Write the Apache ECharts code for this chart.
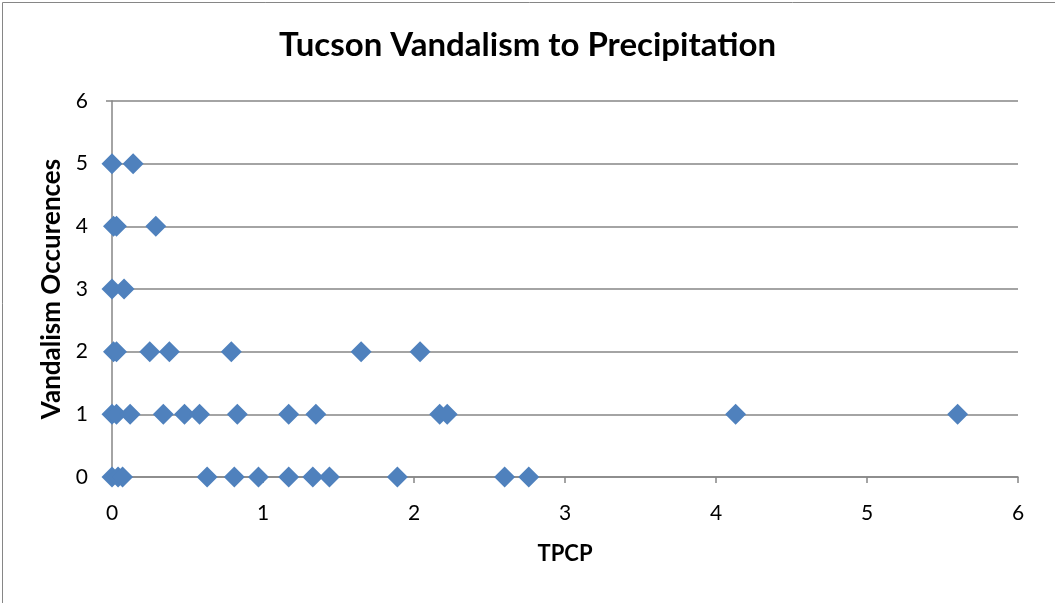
<!DOCTYPE html>
<html>
<head>
<meta charset="utf-8">
<script src="https://cdn.jsdelivr.net/npm/echarts@6/dist/echarts.min.js"></script>
<style>
html,body{margin:0;padding:0;background:#fff;}
#chart{width:1055px;height:603px;}
</style>
</head>
<body>
<div id="chart"></div>
<script>
const titleText = 'Tucson Vandalism to Precipitation';
const xAxisName = 'TPCP';
const yAxisName = 'Vandalism Occurences';
const tpcp = [0.0, 0.14,
  0.01, 0.03, 0.29,
  0.0, 0.08,
  0.01, 0.03, 0.25, 0.38, 0.79, 1.65, 2.04,
  0.0, 0.03, 0.12, 0.34, 0.48, 0.58, 0.83, 1.17, 1.35, 2.17, 2.22, 4.13, 5.6,
  0.0, 0.04, 0.07, 0.63, 0.81, 0.97, 1.17, 1.33, 1.44, 1.89, 2.6, 2.76];
const vandalism = [5, 5,
  4, 4, 4,
  3, 3,
  2, 2, 2, 2, 2, 2, 2,
  1, 1, 1, 1, 1, 1, 1, 1, 1, 1, 1, 1, 1,
  0, 0, 0, 0, 0, 0, 0, 0, 0, 0, 0, 0];

const points = tpcp.map((x, i) => [x, vandalism[i]]);
const font = 'Lato, "Open Sans", sans-serif';
const chart = echarts.init(document.getElementById('chart'));
chart.setOption({
  animation: false,
  title: {
    text: titleText, left: 'center', top: 24,
    textStyle: {fontFamily: font, fontSize: 33, fontWeight: 'bold', color: '#000'}
  },
  graphic: [{
    type: 'rect', left: 0, top: 0,
    shape: {x: 0.5, y: 0.5, width: 1054, height: 602},
    style: {fill: 'none', stroke: '#868686', lineWidth: 1}
  }],
  grid: {left: 112, right: 37, top: 101, bottom: 126},
  xAxis: {
    type: 'value', min: 0, max: 6, interval: 1,
    name: xAxisName, nameLocation: 'middle', nameGap: 66,
    nameTextStyle: {fontFamily: font, fontSize: 22, fontWeight: 'bold', color: '#000'},
    axisLine: {show: true, onZero: false, lineStyle: {color: '#868686', width: 1.5}},
    axisTick: {show: true, length: 6, lineStyle: {color: '#868686', width: 1.5}},
    axisLabel: {fontFamily: font, fontSize: 21, color: '#000', margin: 26},
    splitLine: {show: false}
  },
  yAxis: {
    type: 'value', min: 0, max: 6, interval: 1,
    name: yAxisName, nameLocation: 'middle', nameGap: 44,
    nameTextStyle: {fontFamily: font, fontSize: 26, fontWeight: 'bold', color: '#000'},
    axisLine: {show: true, lineStyle: {color: '#868686', width: 1.5}},
    axisTick: {show: true, length: 6, lineStyle: {color: '#868686', width: 1.5}},
    axisLabel: {fontFamily: font, fontSize: 21, color: '#000', margin: 24},
    splitLine: {show: true, lineStyle: {color: '#868686', width: 1.5}}
  },
  series: [{
    type: 'scatter',
    data: points,
    symbol: 'diamond',
    symbolSize: 21,
    itemStyle: {color: '#4F81BD', opacity: 1}
  }]
});
</script>
</body>
</html>
